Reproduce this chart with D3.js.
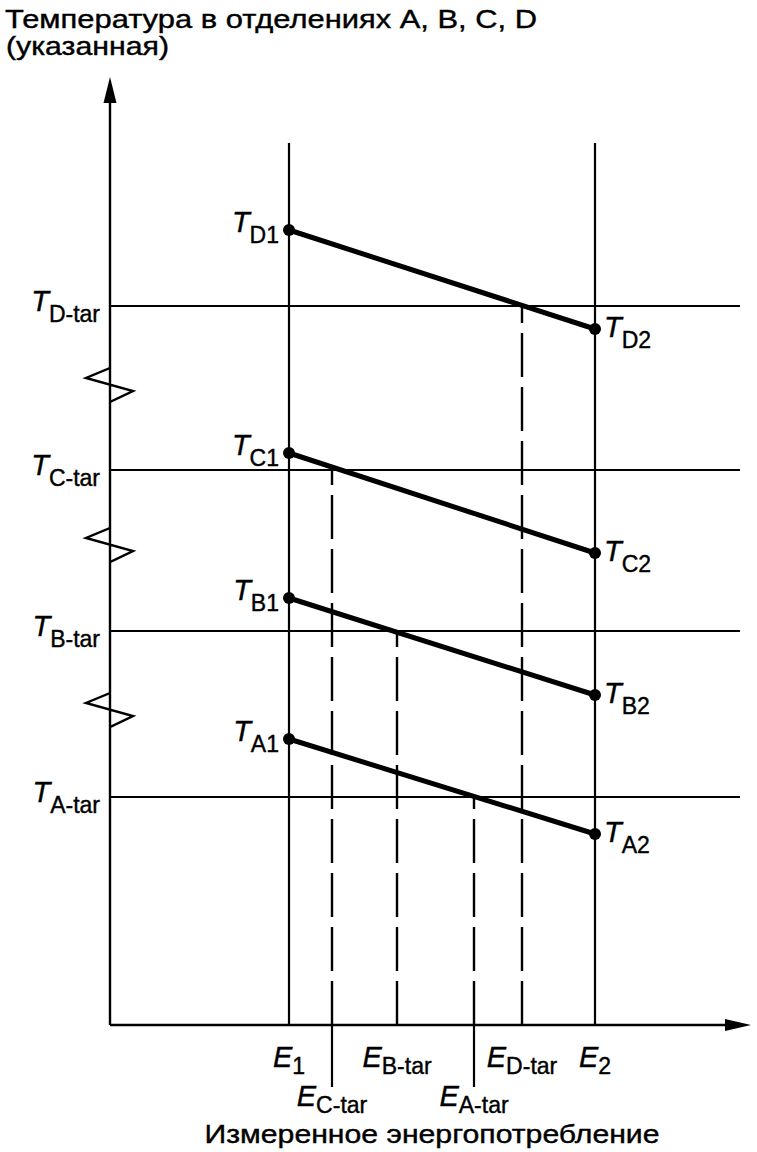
<!DOCTYPE html>
<html>
<head>
<meta charset="utf-8">
<script src="https://cdn.jsdelivr.net/npm/d3@7"></script>
<style>
  body { margin: 0; background: #fff; }
  svg { font-family: "Liberation Sans", Arial, sans-serif; }
</style>
</head>
<body>
<div id="chart"></div>
<script>
// zones and their temperatures (arbitrary display units, axis is broken)
const zones = ['A', 'B', 'C', 'D'];
const tStart = [286, 427, 572, 795];   // T_X1 at E1
const tEnd = [191, 330, 472, 696];     // T_X2 at E2
const tTarget = [228, 394, 555, 719];  // T_X-tar
const eTarget = [364, 287, 222, 412];  // E_X-tar (where the line meets T_X-tar)
const e1 = 179, e2 = 485;
const axisBreaks = [640, 480, 315];     // zigzag positions on the y axis
const titleLines = ['Температура в отделениях A, B, C, D', '(указанная)'];
const xTitle = 'Измеренное энергопотребление';

const width = 757, height = 1152;
const x0 = 110, y0 = 1025;

const svg = d3.select('#chart').append('svg')
    .attr('width', width).attr('height', height);

const x = d3.scaleLinear().domain([0, 641]).range([x0, x0 + 641]);
const y = d3.scaleLinear().domain([0, 948]).range([y0, y0 - 948]);

// y axis with break marks
let path = d3.path();
path.moveTo(x0, y0);
axisBreaks.forEach(b => {
    const c = y(b);
    path.lineTo(x0, c + 17);
    path.lineTo(x0 + 23, c + 6);
    path.lineTo(x0 - 24, c - 7);
    path.lineTo(x0, c - 17);
});
path.lineTo(x0, y(925));
svg.append('path').attr('d', path.toString())
    .attr('fill', 'none').attr('stroke', '#000').attr('stroke-width', 2.4);

// x axis
svg.append('line').attr('x1', x0).attr('x2', x(620))
    .attr('y1', y0).attr('y2', y0)
    .attr('stroke', '#000').attr('stroke-width', 2.4);

// arrow heads
svg.append('path')
    .attr('d', `M${x0},${y(948)}L${x0 - 6.5},${y(922)}L${x0 + 6.5},${y(922)}Z`)
    .attr('fill', '#000');
svg.append('path')
    .attr('d', `M${x(641)},${y0}L${x(615)},${y0 - 6}L${x(615)},${y0 + 6}Z`)
    .attr('fill', '#000');

// E1 and E2 verticals
[e1, e2].forEach(e => {
    svg.append('line').attr('x1', x(e)).attr('x2', x(e))
        .attr('y1', y(882)).attr('y2', y0)
        .attr('stroke', '#000').attr('stroke-width', 2.2);
});

// target temperature lines
svg.selectAll('line.tar').data(tTarget).join('line')
    .classed('tar', true)
    .attr('x1', x0).attr('x2', x(630))
    .attr('y1', d => y(d)).attr('y2', d => y(d))
    .attr('stroke', '#000').attr('stroke-width', 2.2);

// dashed drops to the energy axis (drawn from the axis upward)
svg.selectAll('line.drop').data(zones).join('line')
    .classed('drop', true)
    .attr('x1', (d, i) => x(eTarget[i])).attr('x2', (d, i) => x(eTarget[i]))
    .attr('y1', y0).attr('y2', (d, i) => y(tTarget[i]))
    .attr('stroke', '#000').attr('stroke-width', 2.4)
    .attr('stroke-dasharray', '44,10');

// C and A ticks go below the axis
[2, 0].forEach(i => {
    svg.append('line').attr('x1', x(eTarget[i])).attr('x2', x(eTarget[i]))
        .attr('y1', y0).attr('y2', y(-62))
        .attr('stroke', '#000').attr('stroke-width', 2.2);
});

// thick zone lines with end dots
zones.forEach((z, i) => {
    svg.append('line')
        .attr('x1', x(e1)).attr('y1', y(tStart[i]))
        .attr('x2', x(e2)).attr('y2', y(tEnd[i]))
        .attr('stroke', '#000').attr('stroke-width', 5);
    svg.append('circle').attr('cx', x(e1)).attr('cy', y(tStart[i])).attr('r', 6);
    svg.append('circle').attr('cx', x(e2)).attr('cy', y(tEnd[i])).attr('r', 6);
});

// label with italic main letter and subscript
function label(px, py, main, sub, anchor, dy) {
    const t = svg.append('text')
        .attr('x', px).attr('y', py)
        .attr('text-anchor', anchor)
        .attr('fill', '#000')
        .attr('stroke', '#000').attr('stroke-width', 0.4);
    t.append('tspan').attr('font-style', 'italic').attr('font-size', 29).text(main);
    t.append('tspan').attr('font-size', 23).attr('dy', dy).text(sub);
}

zones.forEach((z, i) => {
    label(x(e1) - 10, y(tStart[i]) + 2, 'T', z + '1', 'end', 11);
    label(x(e2) + 9, y(tEnd[i]) + 8, 'T', z + '2', 'start', 11);
    label(100, y(tTarget[i]) + 5, 'T', z + '-tar', 'end', 11);
});

// energy labels
label(x(e1), 1067, 'E', '1', 'middle', 7);
label(x(e2), 1067, 'E', '2', 'middle', 7);
zones.forEach((z, i) => {
    const low = (z === 'A' || z === 'C');
    label(x(eTarget[i]), low ? 1106 : 1067, 'E', z + '-tar', 'middle', 7);
});

// titles, stretched to the width they take in the original
function title(px, py, txt, len, anchor) {
    svg.append('text').attr('x', px).attr('y', py).attr('font-size', 26)
        .attr('text-anchor', anchor)
        .attr('stroke', '#000').attr('stroke-width', 0.4)
        .attr('textLength', len).attr('lengthAdjust', 'spacingAndGlyphs')
        .text(txt);
}
title(5, 28, titleLines[0], 532, 'start');
title(6, 55, titleLines[1], 163, 'start');
title(432, 1143, xTitle, 455, 'middle');
</script>
</body>
</html>
